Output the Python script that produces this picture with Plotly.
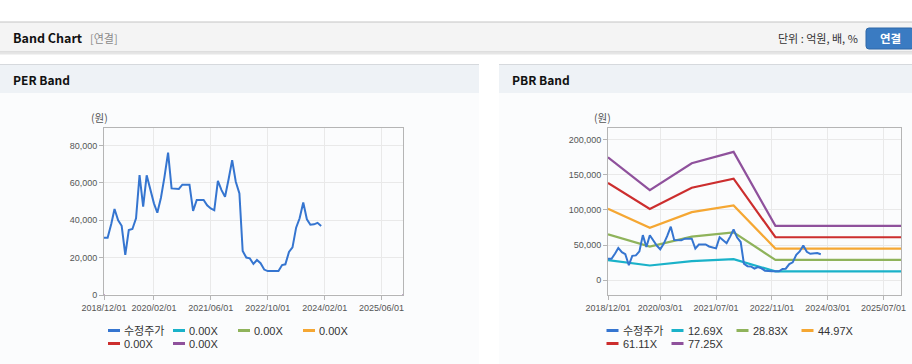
import pandas as pd
import plotly.graph_objects as go

W, H = 912, 364

# ---------------- data ----------------
price_start = "2018-12-01"
price_values = [
    30600, 30600, 38000, 46000, 40000, 37000, 21400, 34700, 35300, 41000,
    64100, 47200, 64000, 56000, 49000, 44000, 52000, 63000, 76100, 57000,
    57000, 56700, 59000, 59000, 59000, 45000, 50800, 50800, 50800, 48000,
    46300, 45300, 61000, 56100, 52500, 62000, 72100, 60600, 54300, 23500,
    20000, 19600, 16600, 18700, 17000, 13600, 12800, 12800, 12800, 12800,
    16000, 16400, 23000, 25500, 36000, 41000, 49500, 40500, 37600, 37800,
    38600, 36900,
]
price_dates = pd.date_range(price_start, periods=len(price_values), freq="MS")

band_dates = ["2018-12-01", "2019-12-01", "2020-12-01", "2021-12-01", "2022-12-01", "2025-12-01"]
bps_values = [2260, 1655, 2150, 2360, 1000, 1000]
eps_values = [0, 0, 0, 0, 0, 0]
per_multiples = [0.00, 0.00, 0.00, 0.00, 0.00]
pbr_multiples = [12.69, 28.83, 44.97, 61.11, 77.25]

price_name = "수정주가"
band_colors = ["#1ab2c9", "#8fb35b", "#f5a733", "#cc2e2e", "#8f519c"]
price_color = "#3575d0"

per_xticks = ["2018-12-01", "2020-02-01", "2021-06-01", "2022-10-01", "2024-02-01", "2025-06-01"]
pbr_xticks = ["2018-12-01", "2020-03-01", "2021-07-01", "2022-11-01", "2024-03-01", "2025-07-01"]
x_range = ["2018-12-01", "2025-12-01"]

# ---------------- helpers (pixel -> paper) ----------------
def px(x):
    return x / W

def py(y):
    return 1 - y / H

FONT = "Liberation Sans, Noto Sans CJK KR, sans-serif"
KFONT = "Noto Sans CJK KR, Liberation Sans, sans-serif"

fig = go.Figure()

# PER chart (left)
fig.add_trace(go.Scatter(x=price_dates, y=price_values, mode="lines", name=price_name,
                         line=dict(color=price_color, width=2), xaxis="x", yaxis="y"))
for i, m in enumerate(per_multiples):
    fig.add_trace(go.Scatter(x=band_dates, y=[e * m for e in eps_values], mode="lines",
                             name=f"{m:.2f}X", line=dict(color=band_colors[i], width=2),
                             xaxis="x", yaxis="y"))

# PBR chart (right) - bands first, price on top
for i, m in enumerate(pbr_multiples):
    fig.add_trace(go.Scatter(x=band_dates, y=[b * m for b in bps_values], mode="lines",
                             name=f"{m:.2f}X", line=dict(color=band_colors[i], width=2.2),
                             xaxis="x2", yaxis="y2"))
fig.add_trace(go.Scatter(x=price_dates, y=price_values, mode="lines", name=price_name,
                         line=dict(color=price_color, width=2), xaxis="x2", yaxis="y2"))
fig.update_traces(showlegend=False)

axis_common = dict(
    showgrid=True, gridcolor="#e9e9e9", gridwidth=1,
    showline=True, linecolor="#b5b5b5", linewidth=1, mirror=True,
    ticks="outside", ticklen=4, tickcolor="#b5b5b5",
    tickfont=dict(family=FONT, size=9, color="#555555"),
    zeroline=False, fixedrange=True,
)

ydom = [py(295), py(128)]
fig.update_layout(
    xaxis=dict(domain=[px(104), px(403)], type="date", range=x_range,
               tickvals=per_xticks, tickformat="%Y/%m/%d", anchor="y", **axis_common),
    yaxis=dict(domain=ydom, range=[0, 89300], tickvals=[0, 20000, 40000, 60000, 80000],
               tickformat=",d", anchor="x", **axis_common),
    xaxis2=dict(domain=[px(608), px(901)], type="date", range=x_range,
                tickvals=pbr_xticks, tickformat="%Y/%m/%d", anchor="y2", **axis_common),
    yaxis2=dict(domain=ydom, range=[-20900, 216200],
                tickvals=[0, 50000, 100000, 150000, 200000],
                tickformat=",d", anchor="x2", **axis_common),
)

# ---------------- page chrome ----------------
shapes = []
annotations = []

# top header bar
shapes.append(dict(type="rect", x0=0, x1=1, y0=py(52), y1=py(22),
                   fillcolor="#f4f4f4", line=dict(width=0), layer="below"))
shapes.append(dict(type="line", x0=0, x1=1, y0=py(22), y1=py(22),
                   line=dict(color="#c4c4c4", width=1), layer="below"))
shapes.append(dict(type="line", x0=0, x1=1, y0=py(52), y1=py(52),
                   line=dict(color="#c8c8c8", width=1), layer="below"))
shapes.append(dict(type="line", x0=0, x1=1, y0=py(53.5), y1=py(53.5),
                   line=dict(color="#e6e6e6", width=2), layer="below"))
# panels
for x0, x1 in [(0, 479), (499, 912)]:
    shapes.append(dict(type="rect", x0=px(x0), x1=px(x1), y0=0, y1=py(64),
                       fillcolor="#fbfcfd", line=dict(width=0), layer="below"))
    shapes.append(dict(type="rect", x0=px(x0), x1=px(x1), y0=py(93), y1=py(64),
                       fillcolor="#eef2f6", line=dict(width=0), layer="below"))
    shapes.append(dict(type="line", x0=px(x0), x1=px(x1), y0=py(64.5), y1=py(64.5),
                       line=dict(color="#d6d9dd", width=1), layer="below"))
# hide the zero-valued PER bands that sit on the bottom axis edge (as in the reference)
shapes.append(dict(type="line", x0=px(104.5), x1=px(402.5), y0=py(294.5), y1=py(294.5),
                   line=dict(color="#ffffff", width=1.2), layer="above"))
# button (rounded)
bx0, bx1, by0, by1, r = 866, 914, 28, 49, 3
path = (f"M{px(bx0 + r)},{py(by0)} L{px(bx1 - r)},{py(by0)} Q{px(bx1)},{py(by0)} {px(bx1)},{py(by0 + r)} "
        f"L{px(bx1)},{py(by1 - r)} Q{px(bx1)},{py(by1)} {px(bx1 - r)},{py(by1)} "
        f"L{px(bx0 + r)},{py(by1)} Q{px(bx0)},{py(by1)} {px(bx0)},{py(by1 - r)} "
        f"L{px(bx0)},{py(by0 + r)} Q{px(bx0)},{py(by0)} {px(bx0 + r)},{py(by0)} Z")
shapes.append(dict(type="path", path=path, fillcolor="#3a7bc2",
                   line=dict(color="#2f69a8", width=1), layer="below"))

annotations += [
    dict(text="<b>Band Chart</b>", x=px(11), y=py(38), xanchor="left", yanchor="middle",
         font=dict(family=KFONT, size=12.5, color="#111111")),
    dict(text="[연결]", x=px(88), y=py(38), xanchor="left", yanchor="middle",
         font=dict(family=KFONT, size=11, color="#8a8a8a")),
    dict(text="단위 : 억원, 배, %", x=px(860), y=py(38), xanchor="right", yanchor="middle",
         font=dict(family=KFONT, size=11, color="#333333")),
    dict(text="<b>연결</b>", x=px(890), y=py(38.5), xanchor="center", yanchor="middle",
         font=dict(family=KFONT, size=11.5, color="#ffffff")),
    dict(text="<b>PER Band</b>", x=px(11), y=py(79.5), xanchor="left", yanchor="middle",
         font=dict(family=KFONT, size=12, color="#111111")),
    dict(text="<b>PBR Band</b>", x=px(510), y=py(79.5), xanchor="left", yanchor="middle",
         font=dict(family=KFONT, size=12, color="#111111")),
    dict(text="(원)", x=px(99), y=py(118), xanchor="center", yanchor="middle",
         font=dict(family=KFONT, size=10.5, color="#555555")),
    dict(text="(원)", x=px(602), y=py(118), xanchor="center", yanchor="middle",
         font=dict(family=KFONT, size=10.5, color="#555555")),
]

# ---------------- legends (2-row grid, built from the series names/colours) ----------------
def legend_block(x_start, names, colors):
    col_w, row_y = 65, [330.5, 343.5]
    slots = [(0, 0), (1, 0), (2, 0), (3, 0), (0, 1), (1, 1)]
    for (c, rr), name, color in zip(slots, names, colors):
        x = x_start + c * col_w
        y = row_y[rr]
        shapes.append(dict(type="line", x0=px(x), x1=px(x + 12), y0=py(y), y1=py(y),
                           line=dict(color=color, width=3), layer="above"))
        annotations.append(dict(text=name, x=px(x + 14), y=py(y), xanchor="left",
                                yanchor="middle",
                                font=dict(family=FONT, size=11, color="#333333")))

per_names = [price_name] + [f"{m:.2f}X" for m in per_multiples]
pbr_names = [price_name] + [f"{m:.2f}X" for m in pbr_multiples]
legend_colors = [price_color] + band_colors
legend_block(108, per_names, legend_colors)
legend_block(606.5, pbr_names, legend_colors)

for s in shapes:
    s.update(xref="paper", yref="paper")
for a in annotations:
    a.update(xref="paper", yref="paper", showarrow=False)

fig.update_layout(
    width=W, height=H,
    margin=dict(l=0, r=0, t=0, b=0, autoexpand=False),
    paper_bgcolor="#ffffff", plot_bgcolor="#ffffff",
    shapes=shapes, annotations=annotations,
    font=dict(family=FONT, color="#333333"),
    showlegend=False,
    hovermode="closest",
)

fig.write_html("out.html", config={"displayModeBar": False},
               post_script="document.body.style.margin='0';document.body.style.overflow='hidden';")
